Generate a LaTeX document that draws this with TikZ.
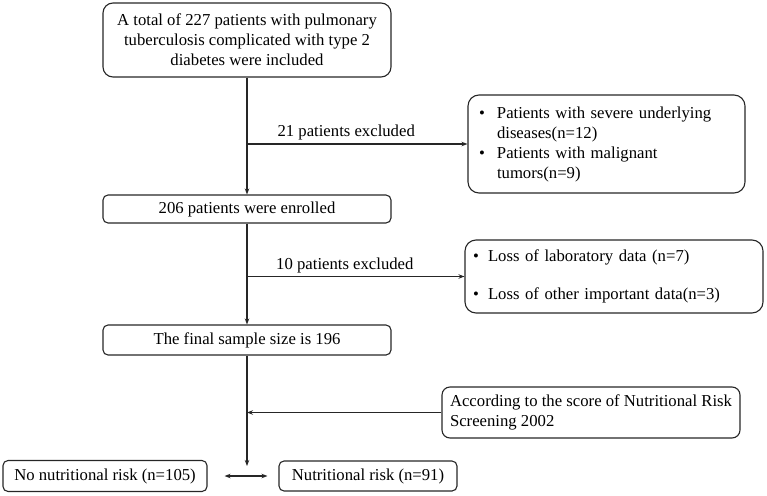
\documentclass[tikz,border=0pt]{standalone}
\usepackage{fontspec}
\setmainfont{Liberation Serif}
\usetikzlibrary{positioning,arrows.meta}
\newcommand{\Bul}{\makebox[18pt][l]{\textbullet}}
\newcommand{\Ind}{\hspace*{18pt}}

\begin{document}
\begin{tikzpicture}[x=1pt, y=-1pt, font=\fontsize{16.7}{20}\selectfont,
  box/.style={draw=black!85, line width=1.1pt, rounded corners=5pt, inner sep=0pt, align=center},
  side/.style={box, align=left, rounded corners=11pt},
  flow/.style={draw=black!85, line width=1.1pt, -{Stealth[length=6pt,width=4.5pt]}}]
  \useasboundingbox (0,0) rectangle (767,495);
  \node[box, rounded corners=10pt, minimum width=288pt, minimum height=74pt] (total) at (247,40)
    {A total of 227 patients with pulmonary\\tuberculosis complicated with type 2\\diabetes were included};
  \node[box, minimum width=288pt, minimum height=28pt] (enrolled) at (247,209) {206 patients were enrolled};
  \node[box, minimum width=288pt, minimum height=30pt] (final) at (247,340) {The final sample size is 196};
  \node[side, text width=255pt, inner xsep=11pt, minimum height=98pt] (excl1) at (606.5,144)
    {\Bul Patients with severe underlying\\ \Ind diseases(n=12)\\ \Bul Patients with malignant\\ \Ind tumors(n=9)};
  \node[side, text width=282pt, inner xsep=8pt, minimum height=73pt] (excl2) at (614,276.5)
    {\makebox[15pt][l]{\textbullet}Loss of laboratory data (n=7)\\[18pt]
     \makebox[15pt][l]{\textbullet}Loss of other important data(n=3)};
  \node[side, rounded corners=8pt, minimum width=298pt, minimum height=51pt] (nrs) at (591,412.5)
    {According to the score of Nutritional Risk\\Screening 2002};
  \node[box, minimum width=204pt, minimum height=31pt] (norisk) at (105,476) {No nutritional risk (n=105)};
  \node[box, minimum width=178pt, minimum height=30pt] (risk) at (368,476) {Nutritional risk (n=91)};
  \coordinate (split) at (247,466);
  \draw[flow] (total.south) -- (enrolled.north);
  \draw[flow] (total.south |- excl1.west) -- node[pos=0.45, above=3pt, inner sep=0pt] {21 patients excluded} (excl1.west);
  \draw[flow] (enrolled.south) -- (final.north);
  \draw[flow] (total.south |- excl2.west) -- node[pos=0.45, above=3pt, inner sep=0pt] {10 patients excluded} (excl2.west);
  \draw[flow] (final.south) -- (split);
  \draw[flow] (nrs.west) -- (nrs.west -| final.south);
  \draw[flow, {Stealth[length=6pt,width=4.5pt]}-{Stealth[length=6pt,width=4.5pt]}]
    ([xshift=17pt]norisk.east) -- ([xshift=-11pt]risk.west);
\end{tikzpicture}
\end{document}
